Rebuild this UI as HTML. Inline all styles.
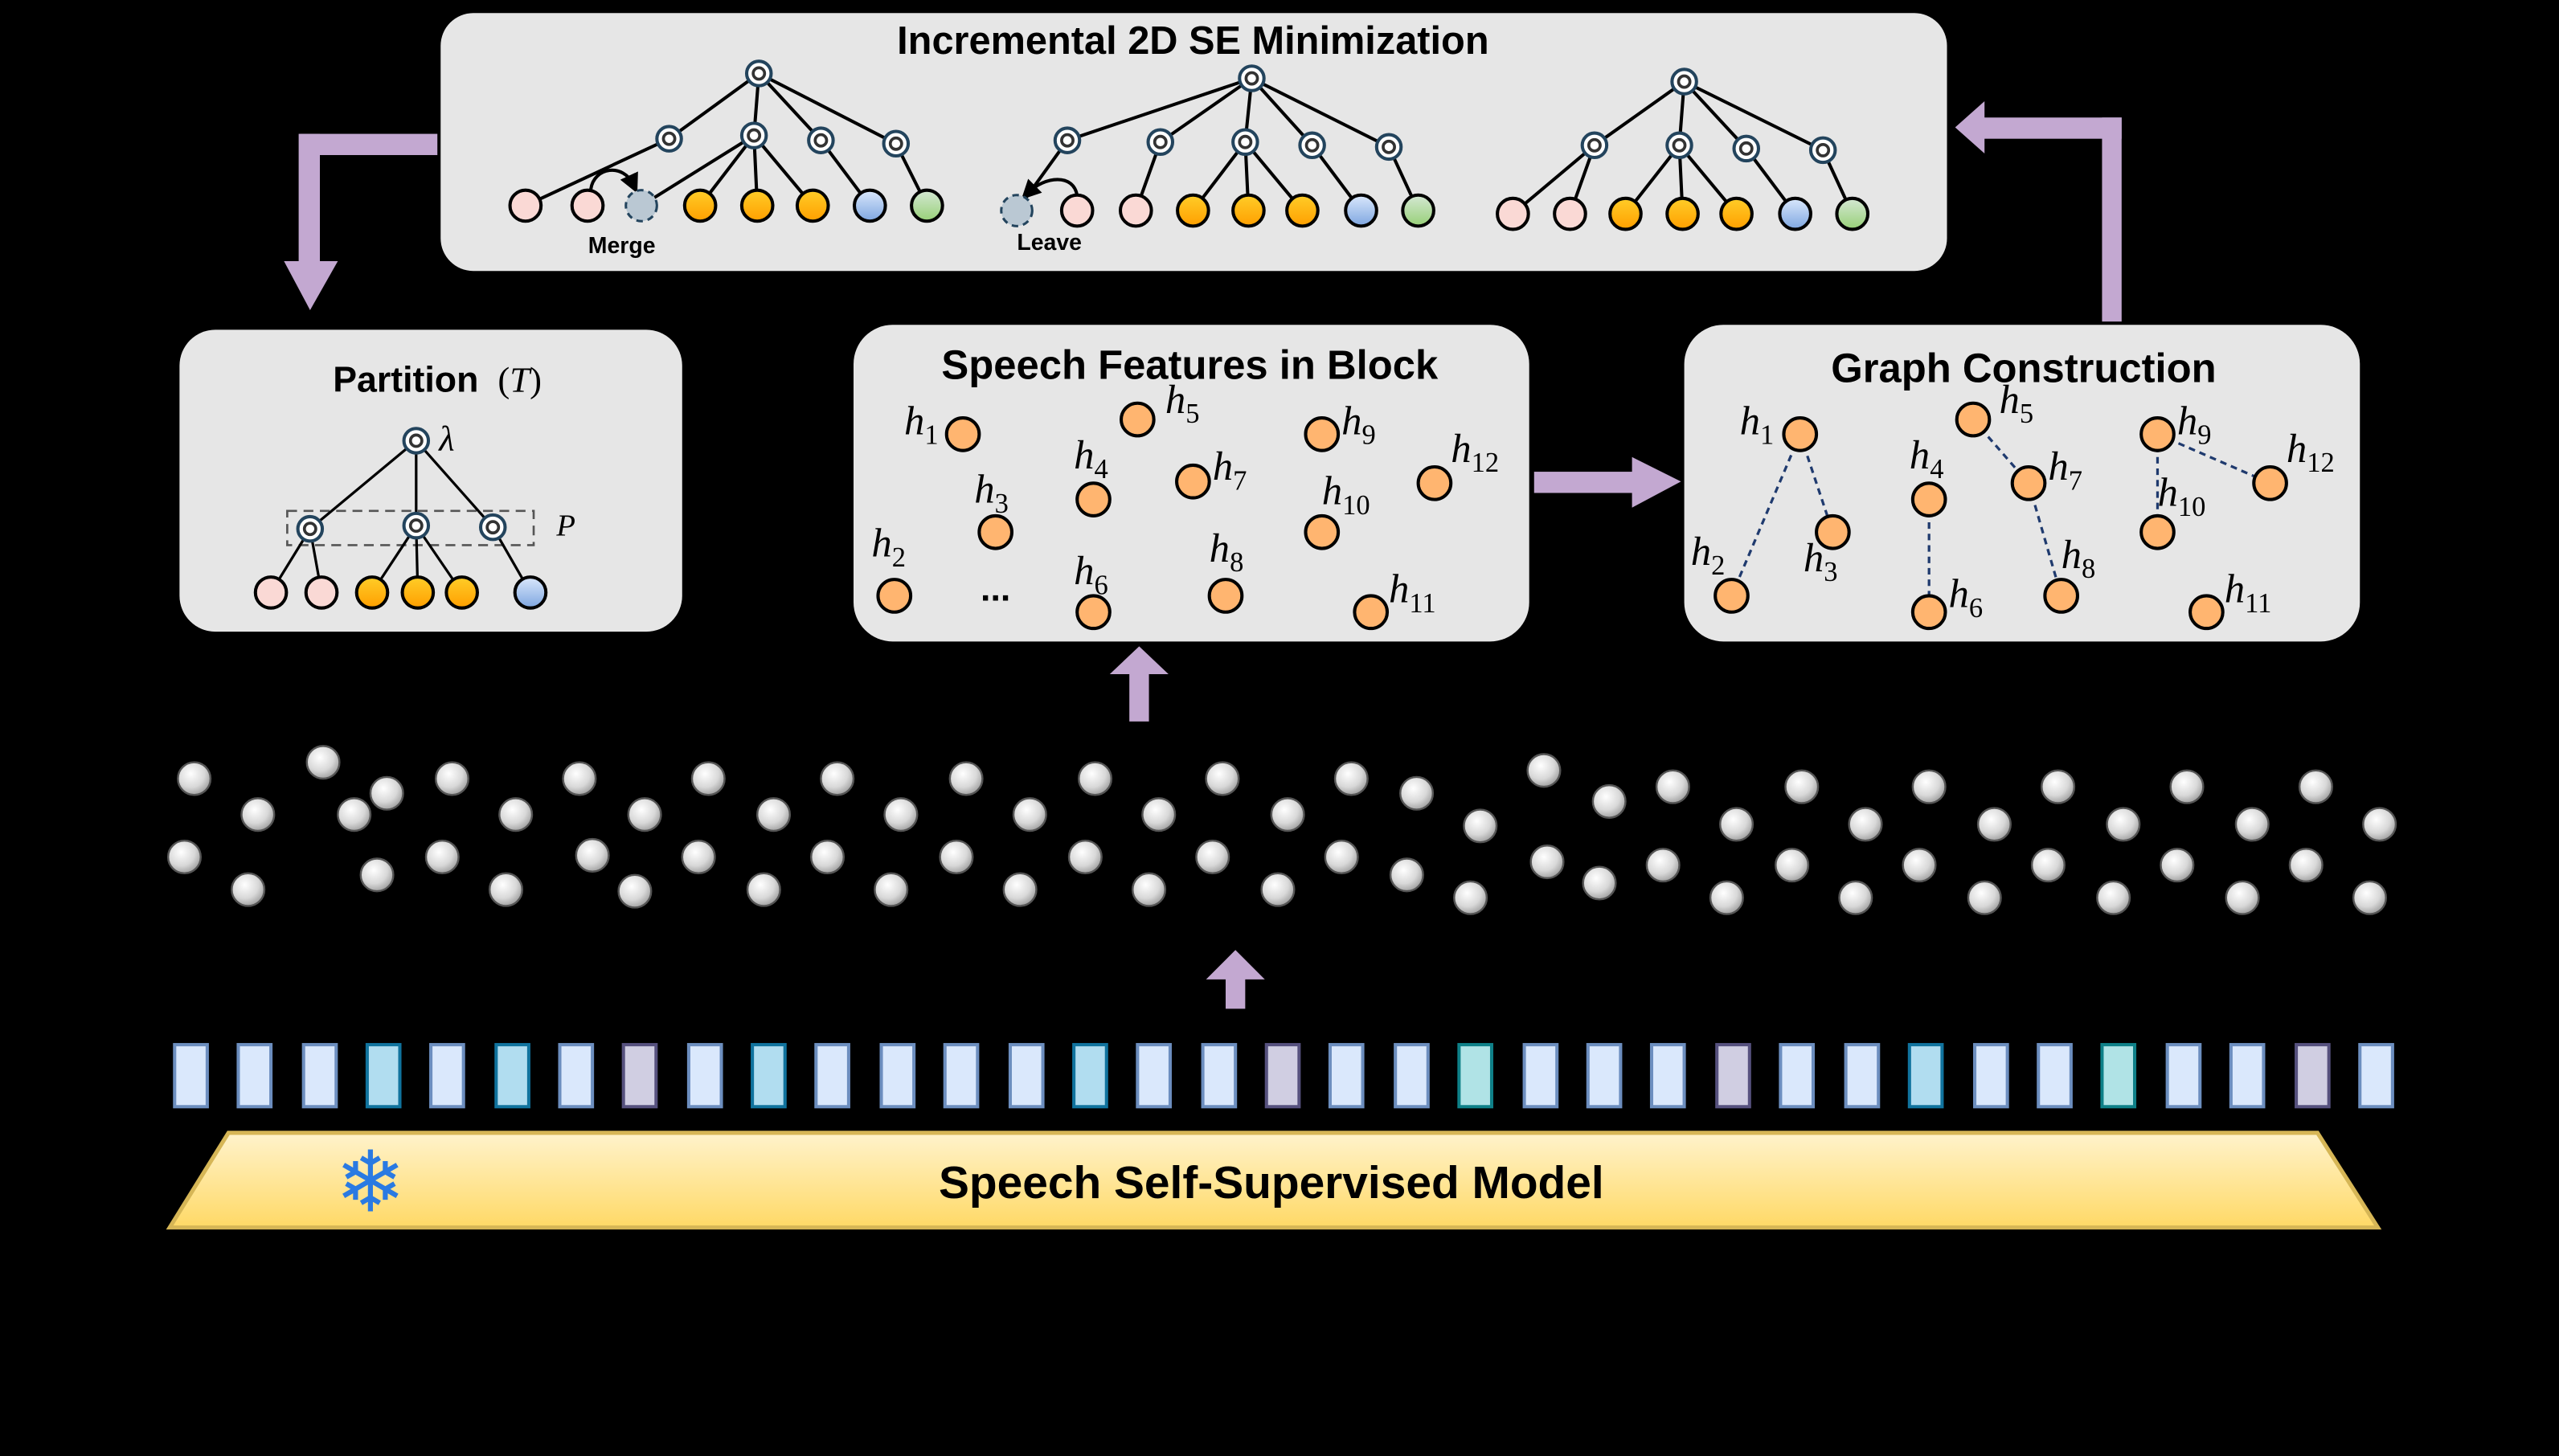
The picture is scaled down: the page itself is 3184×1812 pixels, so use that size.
<!DOCTYPE html>
<html><head><meta charset="utf-8"><style>html,body{margin:0;padding:0;background:#000}svg{display:block}</style></head><body>
<svg width="3184" height="1812" viewBox="0 0 1568 892" preserveAspectRatio="none" xmlns="http://www.w3.org/2000/svg" xmlns:xlink="http://www.w3.org/1999/xlink">
<defs>
<radialGradient id="gb" cx="0.4" cy="0.35" r="0.7"><stop offset="0" stop-color="#ffffff"/><stop offset="0.6" stop-color="#d8d8d8"/><stop offset="1" stop-color="#9a9a9a"/></radialGradient>
<linearGradient id="gy" x1="0" y1="0" x2="0" y2="1"><stop offset="0" stop-color="#fff3cc"/><stop offset="1" stop-color="#ffd966"/></linearGradient>
<linearGradient id="go" x1="0" y1="0" x2="0" y2="1"><stop offset="0" stop-color="#ffcd28"/><stop offset="1" stop-color="#ff9f00"/></linearGradient>
<linearGradient id="gbl" x1="0" y1="0" x2="0" y2="1"><stop offset="0" stop-color="#dae8fc"/><stop offset="1" stop-color="#7ea6e0"/></linearGradient>
<linearGradient id="ggr" x1="0" y1="0" x2="0" y2="1"><stop offset="0" stop-color="#d5e8d4"/><stop offset="1" stop-color="#97d077"/></linearGradient>
<g id="ball"><circle r="10" fill="url(#gb)" stroke="#555" stroke-width="1.2"/></g>
<g id="in"><circle r="7.5" fill="#fff" stroke="#23445d" stroke-width="2"/><circle r="3.5" fill="none" stroke="#333" stroke-width="1.8"/></g>
<g id="lp"><circle r="9.5" fill="#fad9d5" stroke="#000" stroke-width="2"/></g>
<g id="lo"><circle r="9.5" fill="url(#go)" stroke="#000" stroke-width="2"/></g>
<g id="lb"><circle r="9.5" fill="url(#gbl)" stroke="#000" stroke-width="2"/></g>
<g id="lg"><circle r="9.5" fill="url(#ggr)" stroke="#000" stroke-width="2"/></g>
<g id="ld"><circle r="9.5" fill="#bac8d3" stroke="#23445d" stroke-width="1.5" stroke-dasharray="4 3"/></g>
<g id="hn"><circle r="10" fill="#ffb570" stroke="#000" stroke-width="2"/></g>
<g id="rd"><rect x="-10" y="-19" width="20" height="38" fill="#dae8fc" stroke="#6c8ebf" stroke-width="2"/></g>
<g id="rc"><rect x="-10" y="-19" width="20" height="38" fill="#b1ddf0" stroke="#10739e" stroke-width="2"/></g>
<g id="rp"><rect x="-10" y="-19" width="20" height="38" fill="#d0cee2" stroke="#56517e" stroke-width="2"/></g>
<g id="rt"><rect x="-10" y="-19" width="20" height="38" fill="#b0e3e6" stroke="#0e8088" stroke-width="2"/></g>
<marker id="ah" markerWidth="6" markerHeight="6" refX="3" refY="3" orient="auto"><path d="M0,0 L6,3 L0,6 z" fill="#000"/></marker>
</defs>
<rect width="1568" height="892" fill="#000"/>

<!-- top box -->
<rect x="270" y="8" width="923" height="158" rx="20" fill="#e6e6e6"/>
<text x="731" y="33" font-family="Liberation Sans, sans-serif" font-weight="bold" font-size="24" text-anchor="middle">Incremental 2D SE Minimization</text>
<g stroke="#000" stroke-width="2" fill="none">
<path d="M465,45 L410,85 M465,45 L462,83 M465,45 L503,86 M465,45 L549,88 M410,85 L322,126 M462,83 L393,126 M462,83 L429,126 M462,83 L464,126 M462,83 L498,126 M503,86 L533,126 M549,88 L568,126"/>
<path d="M767,48 L654,86 M767,48 L711,87 M767,48 L763,87 M767,48 L804,89 M767,48 L851,90 M654,86 L623,129 M711,87 L696,129 M763,87 L731,129 M763,87 L765,129 M763,87 L798,129 M804,89 L834,129 M851,90 L869,129"/>
<path d="M1032,50 L977,89 M1032,50 L1029,89 M1032,50 L1070,91 M1032,50 L1117,92 M977,89 L927,131 M977,89 L962,131 M1029,89 L996,131 M1029,89 L1031,131 M1029,89 L1064,131 M1070,91 L1100,131 M1117,92 L1135,131"/>
<path d="M362,116 C364,102 382,100 388,113" marker-end="url(#ah)"/>
<path d="M660,120 C658,106 640,108 630,118" marker-end="url(#ah)"/>
</g>
<use href="#in" x="465" y="45"/><use href="#in" x="410" y="85"/><use href="#in" x="462" y="83"/><use href="#in" x="503" y="86"/><use href="#in" x="549" y="88"/>
<use href="#lp" x="322" y="126"/><use href="#lp" x="360" y="126"/><use href="#ld" x="393" y="126"/><use href="#lo" x="429" y="126"/><use href="#lo" x="464" y="126"/><use href="#lo" x="498" y="126"/><use href="#lb" x="533" y="126"/><use href="#lg" x="568" y="126"/>
<use href="#in" x="767" y="48"/><use href="#in" x="654" y="86"/><use href="#in" x="711" y="87"/><use href="#in" x="763" y="87"/><use href="#in" x="804" y="89"/><use href="#in" x="851" y="90"/>
<use href="#ld" x="623" y="129"/><use href="#lp" x="660" y="129"/><use href="#lp" x="696" y="129"/><use href="#lo" x="731" y="129"/><use href="#lo" x="765" y="129"/><use href="#lo" x="798" y="129"/><use href="#lb" x="834" y="129"/><use href="#lg" x="869" y="129"/>
<use href="#in" x="1032" y="50"/><use href="#in" x="977" y="89"/><use href="#in" x="1029" y="89"/><use href="#in" x="1070" y="91"/><use href="#in" x="1117" y="92"/>
<use href="#lp" x="927" y="131"/><use href="#lp" x="962" y="131"/><use href="#lo" x="996" y="131"/><use href="#lo" x="1031" y="131"/><use href="#lo" x="1064" y="131"/><use href="#lb" x="1100" y="131"/><use href="#lg" x="1135" y="131"/>
<text x="381" y="155" font-family="Liberation Sans, sans-serif" font-weight="bold" font-size="14" text-anchor="middle">Merge</text>
<text x="643" y="153" font-family="Liberation Sans, sans-serif" font-weight="bold" font-size="14" text-anchor="middle">Leave</text>

<!-- arrows -->
<g fill="#c3a8d1">
<rect x="184" y="82" width="84" height="13"/><rect x="183" y="82" width="13" height="80"/><path d="M174,160 L207,160 L190,190 z"/>
<rect x="1288" y="72" width="12" height="125"/><rect x="1215" y="72" width="85" height="13"/><path d="M1216,62 L1216,94 L1198,78 z"/>
<rect x="940" y="289" width="62" height="13"/><path d="M1000,280 L1000,311 L1030,295 z"/>
<rect x="692" y="412" width="12" height="30"/><path d="M680,413 L716,413 L698,396 z"/>
<rect x="751" y="598" width="12" height="20"/><path d="M739,600 L775,600 L757,582 z"/>
</g>

<!-- partition box -->
<rect x="110" y="202" width="308" height="185" rx="22" fill="#e6e6e6"/>
<text x="204" y="240" font-family="Liberation Sans, sans-serif" font-weight="bold" font-size="22">Partition</text>
<text x="305" y="240" font-family="Liberation Serif, serif" font-size="22">(<tspan font-style="italic">T</tspan>)</text>
<rect x="176" y="313" width="151" height="21" fill="none" stroke="#555" stroke-width="1.3" stroke-dasharray="6 4"/>
<path d="M255,270 L190,324 M255,270 L255,322 M255,270 L302,323 M190,324 L166,363 M190,324 L197,363 M255,322 L228,363 M255,322 L256,363 M255,322 L283,363 M302,323 L325,363" stroke="#000" stroke-width="1.6"/>
<use href="#in" x="255" y="270"/><use href="#in" x="190" y="324"/><use href="#in" x="255" y="322"/><use href="#in" x="302" y="323"/>
<use href="#lp" x="166" y="363"/><use href="#lp" x="197" y="363"/><use href="#lo" x="228" y="363"/><use href="#lo" x="256" y="363"/><use href="#lo" x="283" y="363"/><use href="#lb" x="325" y="363"/>
<text x="269" y="276" font-family="Liberation Serif, serif" font-style="italic" font-size="22">λ</text>
<text x="341" y="328" font-family="Liberation Serif, serif" font-style="italic" font-size="19">P</text>

<!-- speech features box -->
<rect x="523" y="199" width="414" height="194" rx="24" fill="#e6e6e6"/>
<text x="729" y="232" font-family="Liberation Sans, sans-serif" font-weight="bold" font-size="25" text-anchor="middle">Speech Features in Block</text>
<use href="#hn" x="590" y="266"/><use href="#hn" x="697" y="257"/><use href="#hn" x="810" y="266"/><use href="#hn" x="879" y="296"/><use href="#hn" x="610" y="326"/><use href="#hn" x="670" y="306"/><use href="#hn" x="731" y="295"/><use href="#hn" x="810" y="326"/><use href="#hn" x="548" y="365"/><use href="#hn" x="670" y="375"/><use href="#hn" x="751" y="365"/><use href="#hn" x="840" y="375"/>
<g font-family="Liberation Serif, serif" font-style="italic" font-size="25">
<text x="554" y="266">h<tspan font-style="normal" font-size="17" dy="6">1</tspan></text>
<text x="714" y="253">h<tspan font-style="normal" font-size="17" dy="6">5</tspan></text>
<text x="822" y="266">h<tspan font-style="normal" font-size="17" dy="6">9</tspan></text>
<text x="889" y="283">h<tspan font-style="normal" font-size="17" dy="6">12</tspan></text>
<text x="597" y="308">h<tspan font-style="normal" font-size="17" dy="6">3</tspan></text>
<text x="658" y="287">h<tspan font-style="normal" font-size="17" dy="6">4</tspan></text>
<text x="743" y="294">h<tspan font-style="normal" font-size="17" dy="6">7</tspan></text>
<text x="810" y="309">h<tspan font-style="normal" font-size="17" dy="6">10</tspan></text>
<text x="534" y="341">h<tspan font-style="normal" font-size="17" dy="6">2</tspan></text>
<text x="658" y="358">h<tspan font-style="normal" font-size="17" dy="6">6</tspan></text>
<text x="741" y="344">h<tspan font-style="normal" font-size="17" dy="6">8</tspan></text>
<text x="851" y="369">h<tspan font-style="normal" font-size="17" dy="6">11</tspan></text>
</g>
<text x="610" y="368" font-family="Liberation Sans, sans-serif" font-weight="bold" font-size="22" text-anchor="middle">...</text>

<!-- graph construction box -->
<rect x="1032" y="199" width="414" height="194" rx="24" fill="#e6e6e6"/>
<text x="1240" y="234" font-family="Liberation Sans, sans-serif" font-weight="bold" font-size="25" text-anchor="middle">Graph Construction</text>
<path d="M1103,266 L1061,365 M1103,266 L1123,326 M1182,306 L1182,375 M1209,257 L1243,296 M1243,296 L1263,365 M1322,266 L1322,326 M1322,266 L1391,296" stroke="#1f3a6e" stroke-width="1.6" stroke-dasharray="4 3" fill="none"/>
<g font-family="Liberation Serif, serif" font-style="italic" font-size="25">
<text x="1066" y="266">h<tspan font-style="normal" font-size="17" dy="6">1</tspan></text>
<text x="1225" y="253">h<tspan font-style="normal" font-size="17" dy="6">5</tspan></text>
<text x="1334" y="266">h<tspan font-style="normal" font-size="17" dy="6">9</tspan></text>
<text x="1401" y="283">h<tspan font-style="normal" font-size="17" dy="6">12</tspan></text>
<text x="1105" y="350">h<tspan font-style="normal" font-size="17" dy="6">3</tspan></text>
<text x="1170" y="287">h<tspan font-style="normal" font-size="17" dy="6">4</tspan></text>
<text x="1255" y="294">h<tspan font-style="normal" font-size="17" dy="6">7</tspan></text>
<text x="1322" y="310">h<tspan font-style="normal" font-size="17" dy="6">10</tspan></text>
<text x="1036" y="346">h<tspan font-style="normal" font-size="17" dy="6">2</tspan></text>
<text x="1194" y="372">h<tspan font-style="normal" font-size="17" dy="6">6</tspan></text>
<text x="1263" y="348">h<tspan font-style="normal" font-size="17" dy="6">8</tspan></text>
<text x="1363" y="369">h<tspan font-style="normal" font-size="17" dy="6">11</tspan></text>
</g>
<use href="#hn" x="1103" y="266"/><use href="#hn" x="1209" y="257"/><use href="#hn" x="1322" y="266"/><use href="#hn" x="1391" y="296"/><use href="#hn" x="1123" y="326"/><use href="#hn" x="1182" y="306"/><use href="#hn" x="1243" y="296"/><use href="#hn" x="1322" y="326"/><use href="#hn" x="1061" y="365"/><use href="#hn" x="1182" y="375"/><use href="#hn" x="1263" y="365"/><use href="#hn" x="1352" y="375"/>

<!-- gray balls -->
<use href="#ball" x="119" y="477"/><use href="#ball" x="158" y="499"/><use href="#ball" x="113" y="525"/><use href="#ball" x="152" y="545"/>
<use href="#ball" x="198" y="467"/><use href="#ball" x="217" y="499"/><use href="#ball" x="237" y="486"/><use href="#ball" x="231" y="536"/>
<use href="#ball" x="277" y="477"/><use href="#ball" x="271" y="525"/><use href="#ball" x="310" y="545"/><use href="#ball" x="316" y="499"/>
<use href="#ball" x="355" y="477"/><use href="#ball" x="363" y="524"/><use href="#ball" x="389" y="546"/><use href="#ball" x="395" y="499"/>
<use href="#ball" x="434" y="477"/><use href="#ball" x="428" y="525"/><use href="#ball" x="468" y="545"/><use href="#ball" x="474" y="499"/>
<use href="#ball" x="513" y="477"/><use href="#ball" x="507" y="525"/><use href="#ball" x="546" y="545"/><use href="#ball" x="552" y="499"/>
<use href="#ball" x="592" y="477"/><use href="#ball" x="586" y="525"/><use href="#ball" x="625" y="545"/><use href="#ball" x="631" y="499"/>
<use href="#ball" x="671" y="477"/><use href="#ball" x="665" y="525"/><use href="#ball" x="704" y="545"/><use href="#ball" x="710" y="499"/>
<use href="#ball" x="749" y="477"/><use href="#ball" x="743" y="525"/><use href="#ball" x="783" y="545"/><use href="#ball" x="789" y="499"/>
<use href="#ball" x="828" y="477"/><use href="#ball" x="822" y="525"/><use href="#ball" x="862" y="536"/><use href="#ball" x="868" y="486"/>
<use href="#ball" x="907" y="506"/><use href="#ball" x="901" y="550"/><use href="#ball" x="946" y="472"/><use href="#ball" x="948" y="528"/>
<use href="#ball" x="986" y="491"/><use href="#ball" x="980" y="541"/><use href="#ball" x="1025" y="482"/><use href="#ball" x="1019" y="530"/>
<use href="#ball" x="1064" y="505"/><use href="#ball" x="1058" y="550"/><use href="#ball" x="1104" y="482"/><use href="#ball" x="1098" y="530"/>
<use href="#ball" x="1143" y="505"/><use href="#ball" x="1137" y="550"/><use href="#ball" x="1182" y="482"/><use href="#ball" x="1176" y="530"/>
<use href="#ball" x="1222" y="505"/><use href="#ball" x="1216" y="550"/><use href="#ball" x="1261" y="482"/><use href="#ball" x="1255" y="530"/>
<use href="#ball" x="1301" y="505"/><use href="#ball" x="1295" y="550"/><use href="#ball" x="1340" y="482"/><use href="#ball" x="1334" y="530"/>
<use href="#ball" x="1380" y="505"/><use href="#ball" x="1374" y="550"/><use href="#ball" x="1419" y="482"/><use href="#ball" x="1413" y="530"/>
<use href="#ball" x="1458" y="505"/><use href="#ball" x="1452" y="550"/>

<!-- tokens -->
<g transform="translate(0,659)">
<use href="#rd" x="117"/><use href="#rd" x="156"/><use href="#rd" x="196"/><use href="#rc" x="235"/><use href="#rd" x="274"/><use href="#rc" x="314"/><use href="#rd" x="353"/><use href="#rp" x="392"/><use href="#rd" x="432"/><use href="#rc" x="471"/><use href="#rd" x="510"/><use href="#rd" x="550"/><use href="#rd" x="589"/><use href="#rd" x="629"/><use href="#rc" x="668"/><use href="#rd" x="707"/><use href="#rd" x="747"/><use href="#rp" x="786"/><use href="#rd" x="825"/><use href="#rd" x="865"/><use href="#rt" x="904"/><use href="#rd" x="944"/><use href="#rd" x="983"/><use href="#rd" x="1022"/><use href="#rp" x="1062"/><use href="#rd" x="1101"/><use href="#rd" x="1141"/><use href="#rc" x="1180"/><use href="#rd" x="1220"/><use href="#rd" x="1259"/><use href="#rt" x="1298"/><use href="#rd" x="1338"/><use href="#rd" x="1377"/><use href="#rp" x="1417"/><use href="#rd" x="1456"/>
</g>

<!-- model trapezoid -->
<path d="M140,694 L1420,694 L1457,752 L104,752 z" fill="url(#gy)" stroke="#d6b656" stroke-width="2.5"/>
<text x="779" y="734" font-family="Liberation Sans, sans-serif" font-weight="bold" font-size="28" text-anchor="middle">Speech Self-Supervised Model</text>
<text x="227" y="742" font-family="DejaVu Sans, sans-serif" font-size="52" fill="#2a7ae2" text-anchor="middle">❄</text>
</svg>
</body></html>
